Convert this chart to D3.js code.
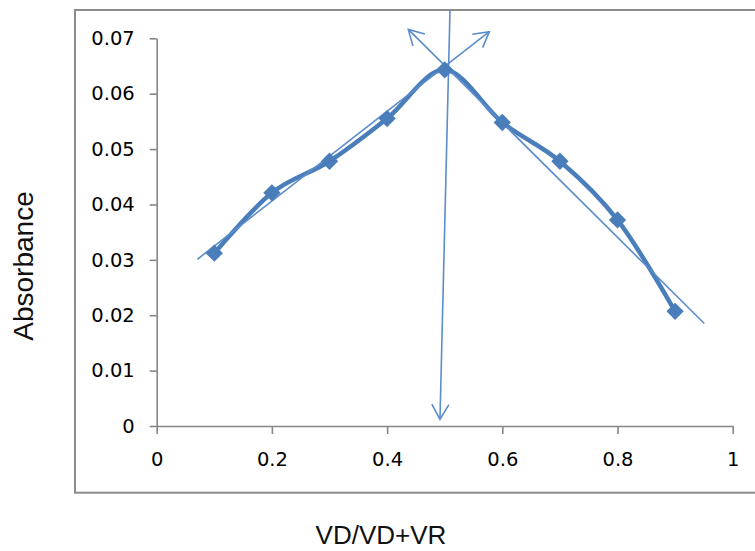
<!DOCTYPE html>
<html>
<head>
<meta charset="utf-8">
<script src="https://cdn.jsdelivr.net/npm/d3@7"></script>
<style>
  html, body { margin: 0; padding: 0; background: #fff; }
  svg { display: block; }
</style>
</head>
<body>
<svg id="chart" width="755" height="551"></svg>
<script>
// Data
const ratio = [0.1, 0.2, 0.3, 0.4, 0.5, 0.6, 0.7, 0.8, 0.9];
const absorbance = [0.0312, 0.0421, 0.0478, 0.0555, 0.0643, 0.0548, 0.0478, 0.0372, 0.0207];

const xTicks = [0, 0.2, 0.4, 0.6, 0.8, 1];
const xTickLabels = ['0', '0.2', '0.4', '0.6', '0.8', '1'];
const yTicks = [0, 0.01, 0.02, 0.03, 0.04, 0.05, 0.06, 0.07];
const yTickLabels = ['0', '0.01', '0.02', '0.03', '0.04', '0.05', '0.06', '0.07'];

// Hand-drawn tangent / intersection arrows, in data units [x, y]
const tangentRise = [[0.0705, 0.0301], [0.5774, 0.0712]];
const tangentFall = [[0.9507, 0.0185], [0.4368, 0.0716]];
const dropLine = [[0.5092, 0.0751], [0.4918, 0.0012]];

const xTitle = 'VD/VD+VR';
const yTitle = 'Absorbance';

const blue = '#4a7ebb';
const axisGrey = '#868686';

const svg = d3.select('#chart');

// Chart frame
svg.append('rect')
    .attr('x', 75)
    .attr('y', 10)
    .attr('width', 700)
    .attr('height', 482.7)
    .style('fill', 'none')
    .style('stroke', '#8c8c8c')
    .style('stroke-width', 2);

// Scales
const x = d3.scaleLinear().domain([0, 1]).range([156.7, 732.7]);
const y = d3.scaleLinear().domain([0, 0.07]).range([426, 38.3]);

// Axes
const yAxis = svg.append('g')
    .attr('transform', `translate(${x(0)}, 0)`)
    .call(d3.axisLeft(y)
        .tickValues(yTicks)
        .tickFormat((d, i) => yTickLabels[i])
        .tickSize(7)
        .tickSizeOuter(0)
        .tickPadding(15));

const xAxis = svg.append('g')
    .attr('transform', `translate(0, ${y(0)})`)
    .call(d3.axisBottom(x)
        .tickValues(xTicks)
        .tickFormat((d, i) => xTickLabels[i])
        .tickSize(8)
        .tickSizeOuter(0)
        .tickPadding(18));

[xAxis, yAxis].forEach(ax => {
    ax.selectAll('.domain, line')
        .style('stroke', axisGrey)
        .style('stroke-width', 1.6);
    ax.selectAll('text')
        .style('font-family', '"DejaVu Sans", sans-serif')
        .style('font-size', '19.5px')
        .style('fill', '#000');
});

// Axis titles
svg.append('text')
    .attr('x', 381)
    .attr('y', 544)
    .attr('text-anchor', 'middle')
    .style('font-family', '"Liberation Sans", Arial, sans-serif')
    .style('font-size', '26px')
    .style('fill', '#111')
    .text(xTitle);

svg.append('text')
    .attr('transform', 'translate(33, 266) rotate(-90)')
    .attr('text-anchor', 'middle')
    .style('font-family', '"Liberation Sans", Arial, sans-serif')
    .style('font-size', '28px')
    .style('fill', '#111')
    .text(yTitle);

// Open arrowhead
svg.append('defs').append('marker')
    .attr('id', 'arrow')
    .attr('markerUnits', 'userSpaceOnUse')
    .attr('viewBox', '-18 -10 20 20')
    .attr('markerWidth', 20)
    .attr('markerHeight', 20)
    .attr('refX', 0)
    .attr('refY', 0)
    .attr('orient', 'auto')
    .append('path')
    .attr('d', 'M-15,-8.5L0,0L-15,8.5')
    .style('fill', 'none')
    .style('stroke', '#5b8ccc')
    .style('stroke-width', 1.6);

// Data curve (smoothed)
const line = d3.line()
    .x(d => x(d[0]))
    .y(d => y(d[1]))
    .curve(d3.curveCardinal.tension(0));

const series = ratio.map((r, i) => [r, absorbance[i]]);

svg.append('path')
    .datum(series)
    .attr('d', line)
    .style('fill', 'none')
    .style('stroke', blue)
    .style('stroke-width', 4.5)
    .style('stroke-linejoin', 'round');

// Annotation lines
const straight = d3.line().x(d => x(d[0])).y(d => y(d[1]));
[tangentRise, tangentFall, dropLine].forEach(seg => {
    svg.append('path')
        .datum(seg)
        .attr('d', straight)
        .attr('marker-end', 'url(#arrow)')
        .style('fill', 'none')
        .style('stroke', '#5b8ccc')
        .style('stroke-width', 1.6);
});

// Diamond markers
const diamond = d3.symbol().type(d3.symbolSquare).size(150);
svg.append('g')
    .selectAll('path')
    .data(series)
    .enter()
    .append('path')
    .attr('d', diamond)
    .attr('transform', d => `translate(${x(d[0])}, ${y(d[1])}) rotate(45)`)
    .style('fill', blue);
</script>
</body>
</html>
